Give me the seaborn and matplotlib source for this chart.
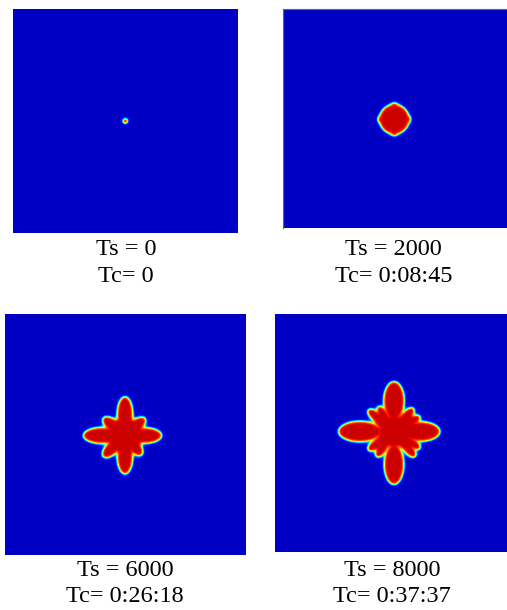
import numpy as np
import matplotlib
matplotlib.use("Agg")
import matplotlib.pyplot as plt
import seaborn as sns
from matplotlib.colors import ListedColormap

# ---------------- data ----------------
ts_labels = ["Ts = 0", "Ts = 2000", "Ts = 6000", "Ts = 8000"]
tc_labels = ["Tc= 0", "Tc= 0:08:45", "Tc= 0:26:18", "Tc= 0:37:37"]

# grid size of each field (cells) and crystal centre (cells from top-left)
grid_w = [225, 224, 241, 232]
grid_h = [224, 219, 241, 238]
center_x = [112.3, 111.3, 120.0, 119.0]
center_y = [112.0, 110.3, 121.5, 117.5]
core_radius = [2.2, 15.0, 18.0, 16.5]

# fingers (primary arms / side branches): tip offset, semi-length, half-width
p2_tip_dx = [0.0, 16.0, 0.0, -16.0]
p2_tip_dy = [-16.0, 0.0, 16.0, 0.0]
p2_len = [2.5, 2.5, 2.5, 2.5]
p2_half = [3.0, 3.0, 3.0, 3.0]

p3_tip_dx = [36.7, 0.0, -41.7, 0.0, 20.0, -21.7, -21.7, 16.7]
p3_tip_dy = [0.0, -38.8, 0.0, 38.5, -17.2, -17.5, 21.2, 19.5]
p3_len = [17.0, 17.5, 19.0, 17.5, 13.0, 13.0, 13.0, 13.0]
p3_half = [8.0, 8.0, 8.3, 8.0, 6.5, 6.5, 6.5, 6.5]

p4_tip_dx = [46.0, 0.0, -55.5, 0.0, 18.0, -19.0, -19.0, 18.0,
             19.3, 26.0, -25.7, -15.7, -25.7, -17.3, 21.0, 26.0]
p4_tip_dy = [0.0, -50.0, 0.0, 53.0, -17.0, -17.0, 17.0, 17.0,
             -23.2, -14.8, -21.5, -24.8, 18.5, 25.2, 25.2, 16.8]
p4_len = [19.5, 19.5, 21.5, 20.0, 10.0, 10.0, 10.0, 10.0,
          9.0, 9.0, 9.0, 9.0, 9.0, 9.0, 9.0, 9.0]
p4_half = [10.0, 10.5, 10.5, 10.0, 7.5, 7.5, 7.5, 7.5,
           4.8, 4.8, 4.8, 4.8, 4.8, 4.8, 4.8, 4.8]

finger_sets = [
    ([], [], [], []),
    (p2_tip_dx, p2_tip_dy, p2_len, p2_half),
    (p3_tip_dx, p3_tip_dy, p3_len, p3_half),
    (p4_tip_dx, p4_tip_dy, p4_len, p4_half),
]

interface_w = 1.5

# panel placement in pixels (left, top, right, bottom)
panel_px = [(12.7, 9.0, 237.7, 232.7), (283.0, 9.0, 507.0, 228.0),
            (5.0, 314.0, 246.0, 555.0), (275.0, 314.0, 507.0, 552.0)]
label_x = [126.0, 393.5, 125.3, 392.0]
label_y1 = [255.0, 255.0, 576.5, 576.5]
label_y2 = [282.5, 282.5, 602.5, 602.5]

W, H = 507, 610


def ellipse_dist(X, Y, cx, cy, a, b, ang):
    c, s = np.cos(ang), np.sin(ang)
    u = (X - cx) * c + (Y - cy) * s
    v = -(X - cx) * s + (Y - cy) * c
    rho = np.sqrt((u / a) ** 2 + (v / b) ** 2)
    g = np.sqrt((u / a ** 2) ** 2 + (v / b ** 2) ** 2) / np.maximum(rho, 1e-9)
    d = (rho - 1.0) / np.maximum(g, 1e-9)
    return np.where(rho < 1e-6, -min(a, b), d)


def smin(a, b, k=1.2):
    m = np.minimum(a, b)
    return m - k * np.log1p(np.exp(-np.abs(a - b) / k))


def build_field(i):
    nx, ny = grid_w[i], grid_h[i]
    X, Y = np.meshgrid(np.arange(nx) + 0.5, np.arange(ny) + 0.5)
    cx, cy = center_x[i], center_y[i]
    d = np.sqrt((X - cx) ** 2 + (Y - cy) ** 2) - core_radius[i]
    tdx, tdy, tl, th = finger_sets[i]
    for dx, dy, a, b in zip(tdx, tdy, tl, th):
        L = np.hypot(dx, dy)
        ang = np.arctan2(dy, dx)
        ex = cx + dx * (L - a) / L
        ey = cy + dy * (L - a) / L
        d = smin(d, ellipse_dist(X, Y, ex, ey, a, b, ang))
    return 0.5 * (1.0 - np.tanh(d / interface_w))


jet = matplotlib.colormaps["jet"]
cmap = ListedColormap(jet(np.linspace(0.06, 0.93, 256)))

fig = plt.figure(figsize=(W / 100, H / 100), dpi=100)
plt.rcParams["font.family"] = ["Liberation Serif", "DejaVu Serif"]

for i in range(4):
    l, t, r, b = panel_px[i]
    ax = fig.add_axes([l / W, 1 - b / H, (r - l) / W, (b - t) / H])
    phi = build_field(i)
    sns.heatmap(phi, ax=ax, cmap=cmap, vmin=0, vmax=1, cbar=False,
                xticklabels=False, yticklabels=False)
    ax.set_xlabel("")
    ax.set_ylabel("")
    if i == 1:
        for side in ("left", "top"):
            ax.spines[side].set_visible(True)
            ax.spines[side].set_color("#666666")
            ax.spines[side].set_linewidth(0.8)
    fig.text(label_x[i] / W, 1 - label_y1[i] / H, ts_labels[i], ha="center",
             va="baseline", fontsize=17.5, family=["Liberation Serif", "DejaVu Serif"])
    fig.text(label_x[i] / W, 1 - label_y2[i] / H, tc_labels[i], ha="center",
             va="baseline", fontsize=17.5, family=["Liberation Serif", "DejaVu Serif"])

fig.savefig("out.png", dpi=100, facecolor="white")
